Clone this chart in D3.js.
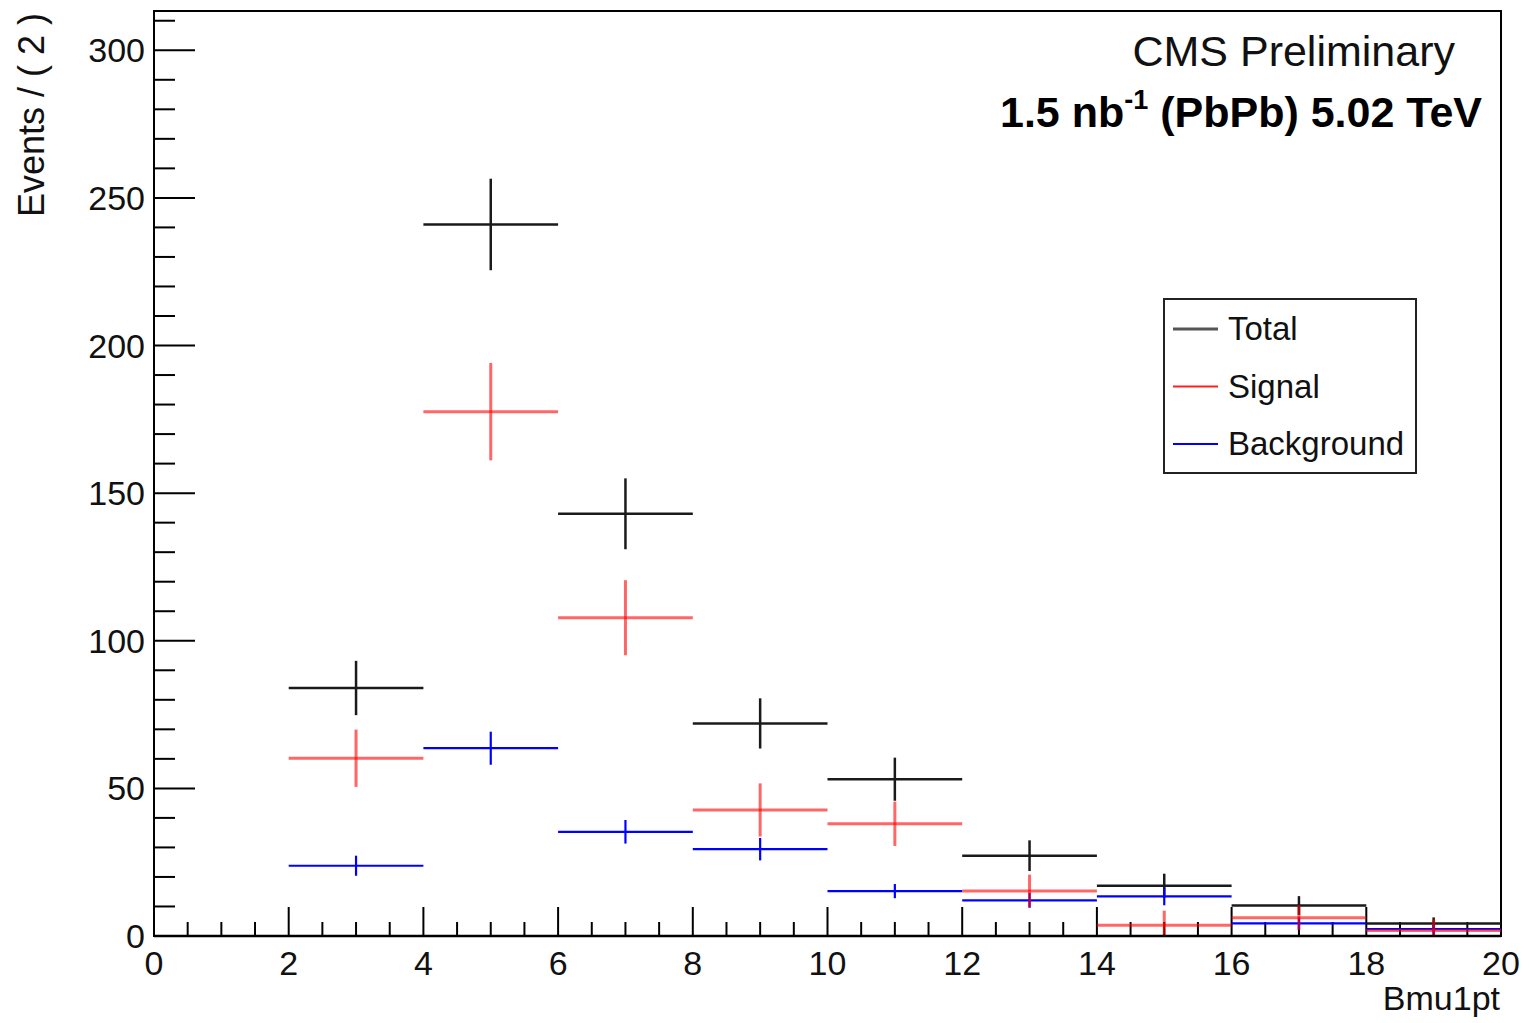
<!DOCTYPE html>
<html>
<head>
<meta charset="utf-8">
<script src="https://cdn.jsdelivr.net/npm/d3@7"></script>
<style>
  body { margin: 0; background: #fff; }
  svg { display: block; font-family: "Liberation Sans", Arial, Helvetica, sans-serif; }
</style>
</head>
<body>
<svg id="chart" width="1529" height="1023"></svg>
<script>
// bins of Bmu1pt, width 2
const binLow = [0, 2, 4, 6, 8, 10, 12, 14, 16, 18];
const binHigh = [2, 4, 6, 8, 10, 12, 14, 16, 18, 20];

const total = [0, 84.0, 241.0, 143.0, 72.0, 53.1, 27.2, 17.0, 10.3, 4.2];
const totalErr = [0, 9.2, 15.5, 12.0, 8.5, 7.3, 5.2, 4.1, 3.2, 2.1];
const signal = [0, 60.2, 177.6, 107.8, 42.7, 38.0, 15.2, 3.6, 6.2, 1.9];
const signalErr = [0, 9.7, 16.5, 12.7, 9.0, 7.5, 5.6, 5.0, 4.2, 3.7];
const background = [0, 23.8, 63.6, 35.3, 29.4, 15.2, 12.1, 13.4, 4.3, 2.3];
const backgroundErr = [0, 3.4, 5.6, 4.0, 3.8, 2.4, 2.5, 3.0, 2.0, 1.5];

const yMajor = [0, 50, 100, 150, 200, 250, 300];
const xMajor = [0, 2, 4, 6, 8, 10, 12, 14, 16, 18, 20];
const legendNames = ['Total', 'Signal', 'Background'];

const svg = d3.select('#chart');
const plotLeft = 154, plotRight = 1501, plotTop = 11, plotBottom = 936;

const x = d3.scaleLinear().domain([0, 20]).range([plotLeft, plotRight]);
const y = d3.scaleLinear().domain([0, 313.3]).range([plotBottom, plotTop]);

svg.append('defs').append('clipPath').attr('id', 'plot')
    .append('rect').attr('x', plotLeft).attr('y', plotTop)
    .attr('width', plotRight - plotLeft).attr('height', plotBottom - plotTop);

// frame
svg.append('rect')
    .attr('x', plotLeft).attr('y', plotTop)
    .attr('width', plotRight - plotLeft).attr('height', plotBottom - plotTop)
    .attr('fill', 'none').attr('stroke', '#000').attr('stroke-width', 2);

// y axis ticks (left only)
const yAxis = svg.append('g');
d3.range(0, 311, 10).forEach(v => {
    const major = v % 50 === 0;
    yAxis.append('line')
        .attr('x1', plotLeft).attr('x2', plotLeft + (major ? 41 : 21))
        .attr('y1', y(v)).attr('y2', y(v))
        .attr('stroke', '#000').attr('stroke-width', 2);
});
yAxis.selectAll('text').data(yMajor).enter().append('text')
    .attr('x', 145).attr('y', d => y(d) + 12)
    .attr('text-anchor', 'end')
    .attr('font-size', 34).attr('fill', '#111')
    .text(d => d);

// x axis ticks
const xAxis = svg.append('g');
d3.range(0, 20.01, 0.5).forEach(v => {
    const major = Math.abs(v % 2) < 1e-6;
    xAxis.append('line')
        .attr('x1', x(v)).attr('x2', x(v))
        .attr('y1', plotBottom).attr('y2', plotBottom - (major ? 29 : 14))
        .attr('stroke', '#000').attr('stroke-width', 2);
});
xAxis.selectAll('text').data(xMajor).enter().append('text')
    .attr('x', d => x(d)).attr('y', 975)
    .attr('text-anchor', 'middle')
    .attr('font-size', 34).attr('fill', '#111')
    .text(d => d);

// axis titles
svg.append('text')
    .attr('transform', 'translate(44,13) rotate(-90)')
    .attr('text-anchor', 'end')
    .attr('font-size', 36).attr('fill', '#111')
    .text('Events / ( 2 )');

svg.append('text')
    .attr('x', 1500).attr('y', 1010)
    .attr('text-anchor', 'end')
    .attr('font-size', 34).attr('fill', '#111')
    .text('Bmu1pt');

// data points with error bars
const series = [
    { vals: total, errs: totalErr, color: '#1a1a1a', width: 2.5, opacity: 1 },
    { vals: background, errs: backgroundErr, color: '#0000ff', width: 2.2, opacity: 1 },
    { vals: signal, errs: signalErr, color: '#ff0000', width: 3, opacity: 0.6 }
];

const marks = svg.append('g').attr('clip-path', 'url(#plot)');
series.forEach(s => {
    const g = marks.append('g')
        .attr('stroke', s.color).attr('stroke-width', s.width)
        .attr('stroke-opacity', s.opacity);
    s.vals.forEach((v, i) => {
        if (v <= 0) return;
        const c = (binLow[i] + binHigh[i]) / 2;
        g.append('line')
            .attr('x1', x(binLow[i])).attr('x2', x(binHigh[i]))
            .attr('y1', y(v)).attr('y2', y(v));
        g.append('line')
            .attr('x1', x(c)).attr('x2', x(c))
            .attr('y1', y(v + s.errs[i])).attr('y2', y(Math.max(0, v - s.errs[i])));
    });
});

// redraw bottom axis line over marks
svg.append('line')
    .attr('x1', plotLeft).attr('x2', plotRight).attr('y1', plotBottom).attr('y2', plotBottom)
    .attr('stroke', '#000').attr('stroke-width', 2.5);

// CMS labels
svg.append('text')
    .attr('x', 1455).attr('y', 66)
    .attr('text-anchor', 'end')
    .attr('font-size', 43).attr('fill', '#111')
    .text('CMS Preliminary');

const lumi = svg.append('text')
    .attr('x', 1482).attr('y', 127)
    .attr('text-anchor', 'end')
    .attr('font-size', 43).attr('font-weight', 'bold').attr('fill', '#000');
lumi.append('tspan').text('1.5 nb');
lumi.append('tspan').attr('dy', -18).attr('font-size', 27).text('-1');
lumi.append('tspan').attr('dy', 18).text(' (PbPb) 5.02 TeV');

// legend
const legend = svg.append('g');
legend.append('rect')
    .attr('x', 1164).attr('y', 299)
    .attr('width', 252).attr('height', 174)
    .attr('fill', '#fff').attr('stroke', '#222').attr('stroke-width', 2);

const legendColors = ['#555', '#ff2020', '#0000ff'];
const legendWidths = [3, 2, 2];
const legendY = d3.scalePoint().domain(legendNames).range([329, 444]);
legendNames.forEach((name, i) => {
    legend.append('line')
        .attr('x1', 1173).attr('x2', 1218)
        .attr('y1', legendY(name)).attr('y2', legendY(name))
        .attr('stroke', legendColors[i]).attr('stroke-width', legendWidths[i]);
    legend.append('text')
        .attr('x', 1228).attr('y', legendY(name) + 11)
        .attr('font-size', 33).attr('fill', '#111')
        .text(name);
});
</script>
</body>
</html>
